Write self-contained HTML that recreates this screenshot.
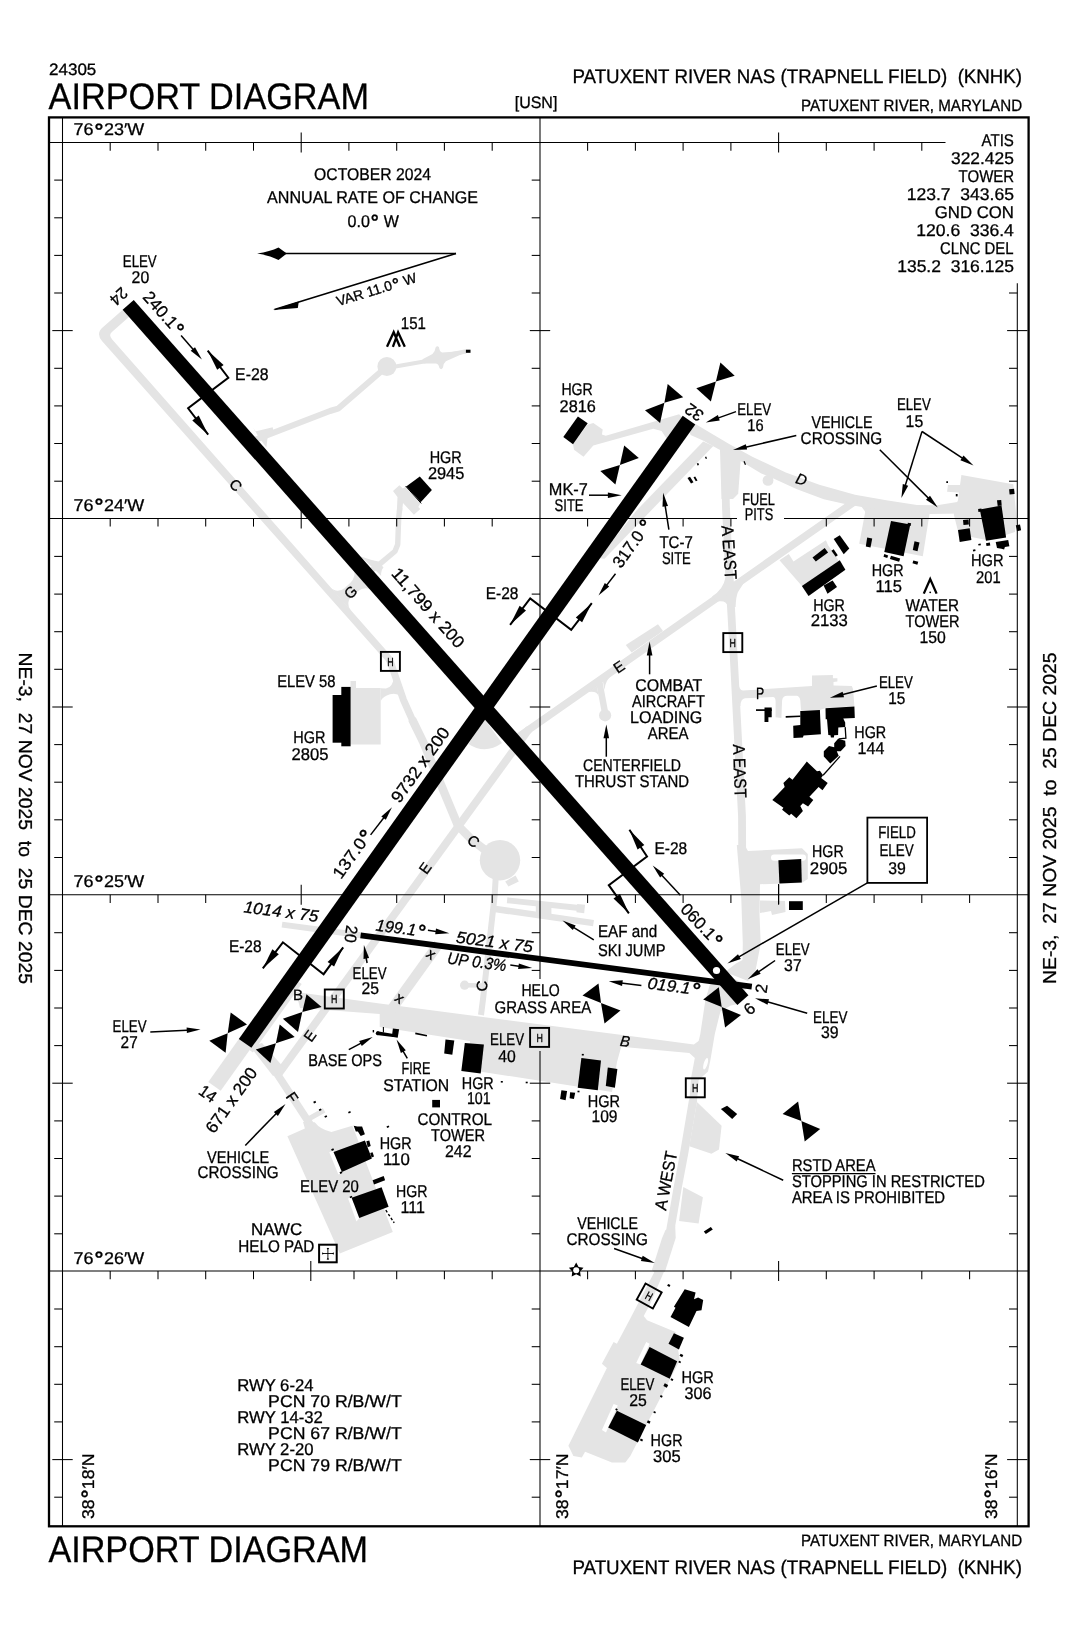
<!DOCTYPE html>
<html><head><meta charset="utf-8"><title>KNHK Airport Diagram</title>
<style>
html,body{margin:0;padding:0;background:#fff;}
svg{display:block;will-change:transform;transform:translateZ(0);}
text{font-family:"Liberation Sans",sans-serif;fill:#000;stroke:#000;stroke-width:0.3px;text-rendering:geometricPrecision;}
</style></head>
<body>
<svg width="1075" height="1647" viewBox="0 0 1075 1647">
<rect x="0" y="0" width="1075" height="1647" fill="#fff"/>
<g id="grey">
<path d="M128.2,304.9 L102.6,327.5 Q95.6,333.7 102.2,341.2 L294.7,558.1 L388.2,663.6 L393.6,658.8 L300.4,553.1 L112.0,339.2 Q108.4,335.2 111.9,332.0 L134.6,312.0 Z" fill="#e4e4e4"/>
<path d="M330.0,587.0 Q337.0,594.1 344.8,587.9 L350.2,583.1 Q356.6,576.8 353.5,568.8 L372.1,589.8 Q364.5,585.8 357.5,591.4 L352.1,596.1 Q344.9,603.1 351.1,611.0 Z" fill="#e4e4e4"/>
<polyline points="388.9,659.0 390.6,662.5 403.5,700.0 416.0,728.0" fill="none" stroke="#e4e4e4" stroke-width="7.0" stroke-linecap="butt" stroke-linejoin="round"/>
<polyline points="412.0,719.0 423.2,742.0 458.0,825.6 472.0,840.0 499.4,860.8" fill="none" stroke="#e4e4e4" stroke-width="8.4" stroke-linecap="butt" stroke-linejoin="round"/>
<circle cx="500.0" cy="860.2" r="20.2" fill="#e4e4e4"/>
<polygon points="505.2,881.4 515.6,875.6 518.8,881.4 508.4,886.6" fill="#e4e4e4"/>
<polyline points="495.7,878.0 494.6,896.0 482.9,1000.2 481.0,1015.0" fill="none" stroke="#e4e4e4" stroke-width="6.0" stroke-linecap="butt" stroke-linejoin="round"/>
<polyline points="484.0,985.5 466.0,985.2" fill="none" stroke="#e4e4e4" stroke-width="4.5" stroke-linecap="butt" stroke-linejoin="round"/>
<circle cx="464.6" cy="985.2" r="4.6" fill="#e4e4e4"/>
<polygon points="350.5,687.9 350.5,680.9 356.0,680.9 356.0,687.9 380.7,687.9 380.7,744.4 350.5,744.4" fill="#e4e4e4"/>
<path d="M380.7,688.3 L386,688.4 Q393,687.5 394.3,675.7 L401,696.6 Q396.5,692.5 390,694.3 Q383,696.5 380.7,701 Z" fill="#e4e4e4"/>
<polyline points="249.4,442.0 330.0,411.0 338.0,408.7 386.9,366.5" fill="none" stroke="#e4e4e4" stroke-width="6.0" stroke-linecap="butt" stroke-linejoin="round"/>
<polygon points="253.0,427.0 255.1,431.5 272.7,427.2 273.9,434.2 267.6,437.0 266.4,447.5 258.0,436.0" fill="#e4e4e4"/>
<circle cx="386.9" cy="366.5" r="9.5" fill="#e4e4e4"/>
<polyline points="386.9,368.0 424.0,361.5 440.0,356.5 466.0,351.4" fill="none" stroke="#e4e4e4" stroke-width="4.2" stroke-linecap="butt" stroke-linejoin="round"/>
<path d="M422.5,359.2 L432.5,354.1 Q435,352 435.6,347.5 Q437.3,345 439,347.3 Q439.5,352 442.4,352.6 L466,350.7 L466,352.2 L445.9,361.2 Q443.5,363 443,367.5 Q441.3,370.5 439.4,368 Q438.7,364 436,363.6 L423.6,363.6 Z" fill="#e4e4e4"/>
<polyline points="399.8,508.0 398.7,517.7 397.7,544.5 395.0,551.3 379.4,564.4 372.0,570.0" fill="none" stroke="#e4e4e4" stroke-width="5.4" stroke-linecap="butt" stroke-linejoin="round"/>
<path d="M361,556.6 Q372,560.5 378.5,561.5 L383.5,567.5 Q380.5,571 381.2,576 Z" fill="#e4e4e4"/>
<polygon points="393.0,491.0 399.4,485.2 402.8,488.6 406.2,486.6 420.7,502.7 418.3,507.1 420.3,509.0 413.9,514.8 403.0,503.0 402.0,512.0 396.8,512.0 397.5,497.0" fill="#e4e4e4"/>
<polyline points="277.0,1076.0 528.3,730.0" fill="none" stroke="#e4e4e4" stroke-width="7.8" stroke-linecap="butt" stroke-linejoin="round"/>
<polyline points="516.0,738.6 528.3,730.0 729.4,589.2 856.0,500.6" fill="none" stroke="#e4e4e4" stroke-width="7.5" stroke-linecap="butt" stroke-linejoin="round"/>
<circle cx="528.3" cy="730.0" r="3.8" fill="#e4e4e4"/>
<path d="M484.5,719 L468.5,744 Q485,755 502,743 Z" fill="#e4e4e4"/>
<path d="M712,596.5 Q723.5,589 725.3,578 L733.5,578 Q733,590 743.5,583.5 L738,592 Q736,596 735.6,607 L727.6,607 Q727.5,600 717,601.5 Z" fill="#e4e4e4"/>
<polygon points="625.8,644.9 658.0,624.3 663.0,631.1 631.6,652.4" fill="#e4e4e4"/>
<polyline points="599.5,683.0 605.1,713.0" fill="none" stroke="#e4e4e4" stroke-width="6.5" stroke-linecap="butt" stroke-linejoin="round"/>
<circle cx="605.1" cy="715.3" r="6.1" fill="#e4e4e4"/>
<path d="M588,692 L597,686 L598.5,696 Q597,690.5 588,692 Z M614,673 L603,681.5 L604.5,690 Q605,680 614,673 Z" fill="#e4e4e4"/>
<polygon points="587.4,424.7 593.3,423.0 602.7,429.5 601.9,434.4 605.8,435.8 679.1,414.2 686.0,421.0 672.0,432.0 666.5,438.6 661.6,430.9 653.3,428.8 593.3,445.6 583.5,456.7 574.0,449.8 573.0,444.2" fill="#e4e4e4"/>
<polygon points="703.2,441.4 713.3,446.0 604.5,558.8 599.0,558.2 635.7,511.4" fill="#e4e4e4"/>
<polygon points="693.0,422.5 707.2,431.0 730.0,444.5 752.3,456.8 785.8,472.4 819.3,484.7 855.0,494.7 886.3,500.3 917.0,504.9 937.1,505.2 957.2,501.9 962.0,498.0 962.0,513.5 930.0,513.9 866.2,513.0 861.7,507.0 843.9,503.7 823.8,499.2 797.0,489.2 772.4,478.0 761.3,473.5 738.9,460.1 717.3,448.6 703.0,440.5 690.6,434.9 688.0,428.0" fill="#e4e4e4"/>
<circle cx="768.0" cy="480.4" r="5.4" fill="#e4e4e4"/>
<polyline points="724.5,446.0 726.0,508.8 729.4,580.0 731.5,616.0 734.6,673.0 742.0,816.0 742.2,850.0" fill="none" stroke="#e4e4e4" stroke-width="7.8" stroke-linecap="butt" stroke-linejoin="round"/>
<polygon points="719.8,444.0 741.0,456.0 738.2,493.8 733.0,499.0 721.5,499.0" fill="#e4e4e4"/>
<polygon points="736.8,845.0 744.5,845.0 748.0,851.0 802.0,848.3 807.8,854.0 807.8,879.0 801.6,883.0 760.0,884.2 759.5,914.0 760.7,943.7 755.5,970.5 748.0,981.0 725.0,972.0 736.0,963.5 742.5,960.0 742.8,943.7 741.3,899.0" fill="#e4e4e4"/>
<rect x="771" y="854.6" width="35" height="6.2" rx="3" fill="#fff"/>
<polygon points="760.0,900.5 785.0,901.0 785.5,912.0 772.0,915.0 771.0,911.0 760.0,913.0" fill="#e4e4e4"/>
<path d="M738.5,682 Q738.8,690.6 743,690.6 L812,686 L812,675.6 L832.9,675 L832.9,678.2 L837.4,678.2 L837.4,681.5 L833.5,682.1 L833.5,685.4 L851.8,686 L853.1,689.3 L854.4,706.2 L825.7,708 L820,710 L801,710.1 L800.3,700.4 Q799.5,695.8 796.4,695.8 L787.3,695.8 Q782.5,696 782.1,700.4 L781.4,717.9 L775.6,717.3 L775.6,701 Q775.3,697.1 773,697.1 L745,698.2 Q740.6,698.6 740.4,706 L739,706 Z" fill="#e4e4e4"/>
<polygon points="865.9,508.2 929.8,512.3 922.8,556.3 859.2,543.7" fill="#e4e4e4"/>
<polygon points="961.4,475.1 1013.3,484.3 1016.6,518.6 1014.9,532.0 989.0,540.4 958.8,534.5 953.8,514.6 958.0,500.0" fill="#e4e4e4"/>
<polygon points="947.9,485.1 962.0,485.1 962.0,492.7 947.1,491.8" fill="#e4e4e4"/>
<polygon points="779.5,560.2 788.8,554.0 793.5,561.4 825.9,540.2 828.1,545.3 838.1,559.8 845.0,570.0 808.0,596.0 801.9,586.0" fill="#e4e4e4"/>
<polygon points="296.0,992.0 379.7,1003.6 622.3,1035.1 693.8,1044.6 700.0,1040.0 698.0,1061.0 694.9,1058.0 689.3,1053.0 621.2,1046.8 617.0,1062.0 612.0,1092.0 481.2,1071.7 470.0,1070.0 470.0,1041.0 379.7,1026.9 379.7,1014.0 300.0,1008.0" fill="#e4e4e4"/>
<polygon points="709.9,984.6 725.0,975.0 748.0,985.0 738.0,1004.0 730.8,1005.5 720.4,1011.4 714.8,1034.0 710.5,1059.5 708.0,1071.4 698.6,1080.0 696.9,1102.0 689.3,1102.0 691.0,1078.2 695.2,1056.1 700.3,1034.0 705.4,1000.0" fill="#e4e4e4"/>
<ellipse cx="705.6" cy="1063.7" rx="1.9" ry="6.0" transform="rotate(17 705.6 1063.7)" fill="#fff"/>
<polyline points="693.1,1100.0 684.2,1153.0 677.8,1187.0 670.0,1232.0" fill="none" stroke="#e4e4e4" stroke-width="8.2" stroke-linecap="butt" stroke-linejoin="round"/>
<polygon points="665.5,1230.0 675.2,1226.0 675.7,1238.0 665.5,1270.0 664.7,1272.0 654.0,1272.0 651.9,1270.0 662.1,1238.0" fill="#e4e4e4"/>
<polygon points="696.9,1102.0 721.6,1125.8 719.0,1149.6 711.4,1153.8 689.3,1146.2" fill="#e4e4e4"/>
<polygon points="683.3,1187.0 702.9,1197.2 698.6,1223.5 679.1,1221.0" fill="#e4e4e4"/>
<polygon points="239.6,1038.0 252.0,1046.8 220.7,1090.8 208.3,1082.0" fill="#e4e4e4"/>
<polyline points="258.9,1046.0 296.5,1103.5 311.2,1126.0" fill="none" stroke="#e4e4e4" stroke-width="7.6" stroke-linecap="butt" stroke-linejoin="round"/>
<polygon points="250.5,1047.0 262.0,1043.0 286.0,1070.0 273.0,1076.0" fill="#e4e4e4"/>
<path d="M287.4,1136.3 L304.9,1128.6 L303,1122 L314.7,1122.3 Q320.2,1129.5 331.4,1132.1 L352.3,1125.8 L356.5,1136.3 L367.7,1167 L392.8,1231.9 L339.8,1253.5 Z" fill="#e4e4e4"/>
<polyline points="308.5,1119.0 324.1,1110.2" fill="none" stroke="#e4e4e4" stroke-width="5.0" stroke-linecap="butt" stroke-linejoin="round"/>
<polygon points="329.3,1152.3 333.5,1150.5 342.6,1172.5 338.4,1174.6" fill="#fff"/>
<polygon points="348.1,1198.4 351.6,1197.0 359.3,1217.9 356.5,1221.4" fill="#fff"/>
<polygon points="297.9,981.3 301.7,984.0 252.9,1052.4 249.2,1049.7" fill="#e4e4e4"/>
<polyline points="282.0,924.6 361.0,935.2" fill="none" stroke="#e4e4e4" stroke-width="6.0" stroke-linecap="butt" stroke-linejoin="round"/>
<polyline points="507.1,900.3 583.9,908.5" fill="none" stroke="#e4e4e4" stroke-width="5.9" stroke-linecap="butt" stroke-linejoin="round"/>
<polygon points="577.2,904.0 585.0,904.8 584.2,913.2 576.4,912.2" fill="#e4e4e4"/>
<polyline points="495.4,909.0 593.5,923.1" fill="none" stroke="#e4e4e4" stroke-width="6.5" stroke-linecap="butt" stroke-linejoin="round"/>
<polygon points="535.8,901.0 551.4,903.0 551.4,917.5 535.8,915.0" fill="#e4e4e4"/>
<polyline points="438.5,944.0 431.4,954.0 389.0,1013.0" fill="none" stroke="#e4e4e4" stroke-width="10.0" stroke-linecap="butt" stroke-linejoin="round"/>
<polygon points="655.4,1270.0 630.3,1318.6 616.9,1343.7 613.6,1342.0 601.9,1363.8 606.9,1368.0 568.4,1445.8 573.4,1455.9 581.8,1457.5 585.1,1451.7 611.9,1462.6 625.3,1462.6 630.3,1455.9 679.7,1360.4 675.5,1332.0 647.1,1320.2 643.7,1316.0 650.4,1303.5 664.7,1270.0" fill="#e4e4e4"/>
<polygon points="636.2,1362.9 646.2,1342.0 649.6,1343.7 640.4,1364.6" fill="#fff"/>
<polygon points="601.9,1429.9 613.6,1404.0 617.8,1405.6 606.0,1432.4" fill="#fff"/>
</g>
<rect x="49.0" y="117.4" width="979.5999999999999" height="1408.8999999999999" fill="none" stroke="#000" stroke-width="2.3"/>
<line x1="62.5" y1="117.4" x2="62.5" y2="1526.3" stroke="#000" stroke-width="1.05" stroke-linecap="butt"/>
<line x1="1017.3" y1="283.3" x2="1017.3" y2="1526.3" stroke="#000" stroke-width="1.05" stroke-linecap="butt"/>
<line x1="540.0" y1="117.4" x2="540.0" y2="979.0" stroke="#000" stroke-width="1.05" stroke-linecap="butt"/>
<line x1="540.0" y1="1051.0" x2="540.0" y2="1526.3" stroke="#000" stroke-width="1.05" stroke-linecap="butt"/>
<line x1="49.0" y1="142.5" x2="945.5" y2="142.5" stroke="#000" stroke-width="1.05" stroke-linecap="butt"/>
<line x1="49.0" y1="518.4" x2="737.0" y2="518.4" stroke="#000" stroke-width="1.05" stroke-linecap="butt"/>
<line x1="784.0" y1="518.4" x2="1028.6" y2="518.4" stroke="#000" stroke-width="1.05" stroke-linecap="butt"/>
<line x1="49.0" y1="894.7" x2="1028.6" y2="894.7" stroke="#000" stroke-width="1.05" stroke-linecap="butt"/>
<line x1="49.0" y1="1271.0" x2="1028.6" y2="1271.0" stroke="#000" stroke-width="1.05" stroke-linecap="butt"/>
<line x1="110.2" y1="142.5" x2="110.2" y2="150.7" stroke="#000" stroke-width="1.05" stroke-linecap="butt"/>
<line x1="158.0" y1="142.5" x2="158.0" y2="150.7" stroke="#000" stroke-width="1.05" stroke-linecap="butt"/>
<line x1="205.7" y1="142.5" x2="205.7" y2="150.7" stroke="#000" stroke-width="1.05" stroke-linecap="butt"/>
<line x1="253.5" y1="142.5" x2="253.5" y2="150.7" stroke="#000" stroke-width="1.05" stroke-linecap="butt"/>
<line x1="301.2" y1="132.5" x2="301.2" y2="152.5" stroke="#000" stroke-width="1.05" stroke-linecap="butt"/>
<line x1="348.9" y1="142.5" x2="348.9" y2="150.7" stroke="#000" stroke-width="1.05" stroke-linecap="butt"/>
<line x1="396.7" y1="142.5" x2="396.7" y2="150.7" stroke="#000" stroke-width="1.05" stroke-linecap="butt"/>
<line x1="444.4" y1="142.5" x2="444.4" y2="150.7" stroke="#000" stroke-width="1.05" stroke-linecap="butt"/>
<line x1="492.2" y1="142.5" x2="492.2" y2="150.7" stroke="#000" stroke-width="1.05" stroke-linecap="butt"/>
<line x1="587.6" y1="142.5" x2="587.6" y2="150.7" stroke="#000" stroke-width="1.05" stroke-linecap="butt"/>
<line x1="635.4" y1="142.5" x2="635.4" y2="150.7" stroke="#000" stroke-width="1.05" stroke-linecap="butt"/>
<line x1="683.1" y1="142.5" x2="683.1" y2="150.7" stroke="#000" stroke-width="1.05" stroke-linecap="butt"/>
<line x1="730.9" y1="142.5" x2="730.9" y2="150.7" stroke="#000" stroke-width="1.05" stroke-linecap="butt"/>
<line x1="778.6" y1="132.5" x2="778.6" y2="152.5" stroke="#000" stroke-width="1.05" stroke-linecap="butt"/>
<line x1="826.3" y1="142.5" x2="826.3" y2="150.7" stroke="#000" stroke-width="1.05" stroke-linecap="butt"/>
<line x1="874.1" y1="142.5" x2="874.1" y2="150.7" stroke="#000" stroke-width="1.05" stroke-linecap="butt"/>
<line x1="921.8" y1="142.5" x2="921.8" y2="150.7" stroke="#000" stroke-width="1.05" stroke-linecap="butt"/>
<line x1="110.2" y1="518.4" x2="110.2" y2="526.6" stroke="#000" stroke-width="1.05" stroke-linecap="butt"/>
<line x1="158.0" y1="518.4" x2="158.0" y2="526.6" stroke="#000" stroke-width="1.05" stroke-linecap="butt"/>
<line x1="205.7" y1="518.4" x2="205.7" y2="526.6" stroke="#000" stroke-width="1.05" stroke-linecap="butt"/>
<line x1="253.5" y1="518.4" x2="253.5" y2="526.6" stroke="#000" stroke-width="1.05" stroke-linecap="butt"/>
<line x1="301.2" y1="508.4" x2="301.2" y2="528.4" stroke="#000" stroke-width="1.05" stroke-linecap="butt"/>
<line x1="348.9" y1="518.4" x2="348.9" y2="526.6" stroke="#000" stroke-width="1.05" stroke-linecap="butt"/>
<line x1="396.7" y1="518.4" x2="396.7" y2="526.6" stroke="#000" stroke-width="1.05" stroke-linecap="butt"/>
<line x1="444.4" y1="518.4" x2="444.4" y2="526.6" stroke="#000" stroke-width="1.05" stroke-linecap="butt"/>
<line x1="492.2" y1="518.4" x2="492.2" y2="526.6" stroke="#000" stroke-width="1.05" stroke-linecap="butt"/>
<line x1="587.6" y1="518.4" x2="587.6" y2="526.6" stroke="#000" stroke-width="1.05" stroke-linecap="butt"/>
<line x1="635.4" y1="518.4" x2="635.4" y2="526.6" stroke="#000" stroke-width="1.05" stroke-linecap="butt"/>
<line x1="683.1" y1="518.4" x2="683.1" y2="526.6" stroke="#000" stroke-width="1.05" stroke-linecap="butt"/>
<line x1="730.9" y1="518.4" x2="730.9" y2="526.6" stroke="#000" stroke-width="1.05" stroke-linecap="butt"/>
<line x1="826.3" y1="518.4" x2="826.3" y2="526.6" stroke="#000" stroke-width="1.05" stroke-linecap="butt"/>
<line x1="874.1" y1="518.4" x2="874.1" y2="526.6" stroke="#000" stroke-width="1.05" stroke-linecap="butt"/>
<line x1="921.8" y1="518.4" x2="921.8" y2="526.6" stroke="#000" stroke-width="1.05" stroke-linecap="butt"/>
<line x1="969.6" y1="518.4" x2="969.6" y2="526.6" stroke="#000" stroke-width="1.05" stroke-linecap="butt"/>
<line x1="110.2" y1="894.7" x2="110.2" y2="902.9" stroke="#000" stroke-width="1.05" stroke-linecap="butt"/>
<line x1="158.0" y1="894.7" x2="158.0" y2="902.9" stroke="#000" stroke-width="1.05" stroke-linecap="butt"/>
<line x1="205.7" y1="894.7" x2="205.7" y2="902.9" stroke="#000" stroke-width="1.05" stroke-linecap="butt"/>
<line x1="301.2" y1="884.7" x2="301.2" y2="904.7" stroke="#000" stroke-width="1.05" stroke-linecap="butt"/>
<line x1="348.9" y1="894.7" x2="348.9" y2="902.9" stroke="#000" stroke-width="1.05" stroke-linecap="butt"/>
<line x1="396.7" y1="894.7" x2="396.7" y2="902.9" stroke="#000" stroke-width="1.05" stroke-linecap="butt"/>
<line x1="444.4" y1="894.7" x2="444.4" y2="902.9" stroke="#000" stroke-width="1.05" stroke-linecap="butt"/>
<line x1="492.2" y1="894.7" x2="492.2" y2="902.9" stroke="#000" stroke-width="1.05" stroke-linecap="butt"/>
<line x1="587.6" y1="894.7" x2="587.6" y2="902.9" stroke="#000" stroke-width="1.05" stroke-linecap="butt"/>
<line x1="635.4" y1="894.7" x2="635.4" y2="902.9" stroke="#000" stroke-width="1.05" stroke-linecap="butt"/>
<line x1="683.1" y1="894.7" x2="683.1" y2="902.9" stroke="#000" stroke-width="1.05" stroke-linecap="butt"/>
<line x1="730.9" y1="894.7" x2="730.9" y2="902.9" stroke="#000" stroke-width="1.05" stroke-linecap="butt"/>
<line x1="778.6" y1="884.7" x2="778.6" y2="904.7" stroke="#000" stroke-width="1.05" stroke-linecap="butt"/>
<line x1="826.3" y1="894.7" x2="826.3" y2="902.9" stroke="#000" stroke-width="1.05" stroke-linecap="butt"/>
<line x1="874.1" y1="894.7" x2="874.1" y2="902.9" stroke="#000" stroke-width="1.05" stroke-linecap="butt"/>
<line x1="921.8" y1="894.7" x2="921.8" y2="902.9" stroke="#000" stroke-width="1.05" stroke-linecap="butt"/>
<line x1="969.6" y1="894.7" x2="969.6" y2="902.9" stroke="#000" stroke-width="1.05" stroke-linecap="butt"/>
<line x1="110.2" y1="1271.0" x2="110.2" y2="1279.2" stroke="#000" stroke-width="1.05" stroke-linecap="butt"/>
<line x1="158.0" y1="1271.0" x2="158.0" y2="1279.2" stroke="#000" stroke-width="1.05" stroke-linecap="butt"/>
<line x1="205.7" y1="1271.0" x2="205.7" y2="1279.2" stroke="#000" stroke-width="1.05" stroke-linecap="butt"/>
<line x1="253.5" y1="1271.0" x2="253.5" y2="1279.2" stroke="#000" stroke-width="1.05" stroke-linecap="butt"/>
<line x1="310.8" y1="1261.0" x2="310.8" y2="1281.0" stroke="#000" stroke-width="1.05" stroke-linecap="butt"/>
<line x1="354.0" y1="1271.0" x2="354.0" y2="1279.2" stroke="#000" stroke-width="1.05" stroke-linecap="butt"/>
<line x1="396.7" y1="1271.0" x2="396.7" y2="1279.2" stroke="#000" stroke-width="1.05" stroke-linecap="butt"/>
<line x1="444.4" y1="1271.0" x2="444.4" y2="1279.2" stroke="#000" stroke-width="1.05" stroke-linecap="butt"/>
<line x1="492.2" y1="1271.0" x2="492.2" y2="1279.2" stroke="#000" stroke-width="1.05" stroke-linecap="butt"/>
<line x1="587.6" y1="1271.0" x2="587.6" y2="1279.2" stroke="#000" stroke-width="1.05" stroke-linecap="butt"/>
<line x1="635.4" y1="1271.0" x2="635.4" y2="1279.2" stroke="#000" stroke-width="1.05" stroke-linecap="butt"/>
<line x1="683.1" y1="1271.0" x2="683.1" y2="1279.2" stroke="#000" stroke-width="1.05" stroke-linecap="butt"/>
<line x1="730.9" y1="1271.0" x2="730.9" y2="1279.2" stroke="#000" stroke-width="1.05" stroke-linecap="butt"/>
<line x1="778.6" y1="1261.0" x2="778.6" y2="1281.0" stroke="#000" stroke-width="1.05" stroke-linecap="butt"/>
<line x1="826.3" y1="1271.0" x2="826.3" y2="1279.2" stroke="#000" stroke-width="1.05" stroke-linecap="butt"/>
<line x1="874.1" y1="1271.0" x2="874.1" y2="1279.2" stroke="#000" stroke-width="1.05" stroke-linecap="butt"/>
<line x1="921.8" y1="1271.0" x2="921.8" y2="1279.2" stroke="#000" stroke-width="1.05" stroke-linecap="butt"/>
<line x1="969.6" y1="1271.0" x2="969.6" y2="1279.2" stroke="#000" stroke-width="1.05" stroke-linecap="butt"/>
<line x1="54.2" y1="180.1" x2="62.5" y2="180.1" stroke="#000" stroke-width="1.05" stroke-linecap="butt"/>
<line x1="54.2" y1="217.8" x2="62.5" y2="217.8" stroke="#000" stroke-width="1.05" stroke-linecap="butt"/>
<line x1="54.2" y1="255.4" x2="62.5" y2="255.4" stroke="#000" stroke-width="1.05" stroke-linecap="butt"/>
<line x1="54.2" y1="293.0" x2="62.5" y2="293.0" stroke="#000" stroke-width="1.05" stroke-linecap="butt"/>
<line x1="52.3" y1="330.6" x2="72.7" y2="330.6" stroke="#000" stroke-width="1.05" stroke-linecap="butt"/>
<line x1="54.2" y1="368.3" x2="62.5" y2="368.3" stroke="#000" stroke-width="1.05" stroke-linecap="butt"/>
<line x1="54.2" y1="405.9" x2="62.5" y2="405.9" stroke="#000" stroke-width="1.05" stroke-linecap="butt"/>
<line x1="54.2" y1="443.5" x2="62.5" y2="443.5" stroke="#000" stroke-width="1.05" stroke-linecap="butt"/>
<line x1="54.2" y1="481.2" x2="62.5" y2="481.2" stroke="#000" stroke-width="1.05" stroke-linecap="butt"/>
<line x1="54.2" y1="556.4" x2="62.5" y2="556.4" stroke="#000" stroke-width="1.05" stroke-linecap="butt"/>
<line x1="54.2" y1="594.1" x2="62.5" y2="594.1" stroke="#000" stroke-width="1.05" stroke-linecap="butt"/>
<line x1="54.2" y1="631.7" x2="62.5" y2="631.7" stroke="#000" stroke-width="1.05" stroke-linecap="butt"/>
<line x1="54.2" y1="669.3" x2="62.5" y2="669.3" stroke="#000" stroke-width="1.05" stroke-linecap="butt"/>
<line x1="52.3" y1="707.0" x2="72.7" y2="707.0" stroke="#000" stroke-width="1.05" stroke-linecap="butt"/>
<line x1="54.2" y1="744.6" x2="62.5" y2="744.6" stroke="#000" stroke-width="1.05" stroke-linecap="butt"/>
<line x1="54.2" y1="782.2" x2="62.5" y2="782.2" stroke="#000" stroke-width="1.05" stroke-linecap="butt"/>
<line x1="54.2" y1="819.8" x2="62.5" y2="819.8" stroke="#000" stroke-width="1.05" stroke-linecap="butt"/>
<line x1="54.2" y1="857.5" x2="62.5" y2="857.5" stroke="#000" stroke-width="1.05" stroke-linecap="butt"/>
<line x1="54.2" y1="932.7" x2="62.5" y2="932.7" stroke="#000" stroke-width="1.05" stroke-linecap="butt"/>
<line x1="54.2" y1="970.4" x2="62.5" y2="970.4" stroke="#000" stroke-width="1.05" stroke-linecap="butt"/>
<line x1="54.2" y1="1008.0" x2="62.5" y2="1008.0" stroke="#000" stroke-width="1.05" stroke-linecap="butt"/>
<line x1="54.2" y1="1045.6" x2="62.5" y2="1045.6" stroke="#000" stroke-width="1.05" stroke-linecap="butt"/>
<line x1="52.3" y1="1083.2" x2="72.7" y2="1083.2" stroke="#000" stroke-width="1.05" stroke-linecap="butt"/>
<line x1="54.2" y1="1120.9" x2="62.5" y2="1120.9" stroke="#000" stroke-width="1.05" stroke-linecap="butt"/>
<line x1="54.2" y1="1158.5" x2="62.5" y2="1158.5" stroke="#000" stroke-width="1.05" stroke-linecap="butt"/>
<line x1="54.2" y1="1196.1" x2="62.5" y2="1196.1" stroke="#000" stroke-width="1.05" stroke-linecap="butt"/>
<line x1="54.2" y1="1233.8" x2="62.5" y2="1233.8" stroke="#000" stroke-width="1.05" stroke-linecap="butt"/>
<line x1="54.2" y1="1309.0" x2="62.5" y2="1309.0" stroke="#000" stroke-width="1.05" stroke-linecap="butt"/>
<line x1="54.2" y1="1346.7" x2="62.5" y2="1346.7" stroke="#000" stroke-width="1.05" stroke-linecap="butt"/>
<line x1="54.2" y1="1384.3" x2="62.5" y2="1384.3" stroke="#000" stroke-width="1.05" stroke-linecap="butt"/>
<line x1="54.2" y1="1421.9" x2="62.5" y2="1421.9" stroke="#000" stroke-width="1.05" stroke-linecap="butt"/>
<line x1="52.3" y1="1459.6" x2="72.7" y2="1459.6" stroke="#000" stroke-width="1.05" stroke-linecap="butt"/>
<line x1="54.2" y1="1497.2" x2="62.5" y2="1497.2" stroke="#000" stroke-width="1.05" stroke-linecap="butt"/>
<line x1="531.7" y1="180.1" x2="540.0" y2="180.1" stroke="#000" stroke-width="1.05" stroke-linecap="butt"/>
<line x1="531.7" y1="217.8" x2="540.0" y2="217.8" stroke="#000" stroke-width="1.05" stroke-linecap="butt"/>
<line x1="531.7" y1="255.4" x2="540.0" y2="255.4" stroke="#000" stroke-width="1.05" stroke-linecap="butt"/>
<line x1="531.7" y1="293.0" x2="540.0" y2="293.0" stroke="#000" stroke-width="1.05" stroke-linecap="butt"/>
<line x1="529.8" y1="330.6" x2="550.2" y2="330.6" stroke="#000" stroke-width="1.05" stroke-linecap="butt"/>
<line x1="531.7" y1="368.3" x2="540.0" y2="368.3" stroke="#000" stroke-width="1.05" stroke-linecap="butt"/>
<line x1="531.7" y1="405.9" x2="540.0" y2="405.9" stroke="#000" stroke-width="1.05" stroke-linecap="butt"/>
<line x1="531.7" y1="443.5" x2="540.0" y2="443.5" stroke="#000" stroke-width="1.05" stroke-linecap="butt"/>
<line x1="531.7" y1="481.2" x2="540.0" y2="481.2" stroke="#000" stroke-width="1.05" stroke-linecap="butt"/>
<line x1="531.7" y1="556.4" x2="540.0" y2="556.4" stroke="#000" stroke-width="1.05" stroke-linecap="butt"/>
<line x1="531.7" y1="594.1" x2="540.0" y2="594.1" stroke="#000" stroke-width="1.05" stroke-linecap="butt"/>
<line x1="531.7" y1="631.7" x2="540.0" y2="631.7" stroke="#000" stroke-width="1.05" stroke-linecap="butt"/>
<line x1="531.7" y1="669.3" x2="540.0" y2="669.3" stroke="#000" stroke-width="1.05" stroke-linecap="butt"/>
<line x1="529.8" y1="707.0" x2="550.2" y2="707.0" stroke="#000" stroke-width="1.05" stroke-linecap="butt"/>
<line x1="531.7" y1="744.6" x2="540.0" y2="744.6" stroke="#000" stroke-width="1.05" stroke-linecap="butt"/>
<line x1="531.7" y1="782.2" x2="540.0" y2="782.2" stroke="#000" stroke-width="1.05" stroke-linecap="butt"/>
<line x1="531.7" y1="819.8" x2="540.0" y2="819.8" stroke="#000" stroke-width="1.05" stroke-linecap="butt"/>
<line x1="531.7" y1="857.5" x2="540.0" y2="857.5" stroke="#000" stroke-width="1.05" stroke-linecap="butt"/>
<line x1="531.7" y1="932.7" x2="540.0" y2="932.7" stroke="#000" stroke-width="1.05" stroke-linecap="butt"/>
<line x1="531.7" y1="970.4" x2="540.0" y2="970.4" stroke="#000" stroke-width="1.05" stroke-linecap="butt"/>
<line x1="529.8" y1="1083.2" x2="550.2" y2="1083.2" stroke="#000" stroke-width="1.05" stroke-linecap="butt"/>
<line x1="531.7" y1="1120.9" x2="540.0" y2="1120.9" stroke="#000" stroke-width="1.05" stroke-linecap="butt"/>
<line x1="531.7" y1="1158.5" x2="540.0" y2="1158.5" stroke="#000" stroke-width="1.05" stroke-linecap="butt"/>
<line x1="531.7" y1="1196.1" x2="540.0" y2="1196.1" stroke="#000" stroke-width="1.05" stroke-linecap="butt"/>
<line x1="531.7" y1="1233.8" x2="540.0" y2="1233.8" stroke="#000" stroke-width="1.05" stroke-linecap="butt"/>
<line x1="531.7" y1="1309.0" x2="540.0" y2="1309.0" stroke="#000" stroke-width="1.05" stroke-linecap="butt"/>
<line x1="531.7" y1="1346.7" x2="540.0" y2="1346.7" stroke="#000" stroke-width="1.05" stroke-linecap="butt"/>
<line x1="531.7" y1="1384.3" x2="540.0" y2="1384.3" stroke="#000" stroke-width="1.05" stroke-linecap="butt"/>
<line x1="531.7" y1="1421.9" x2="540.0" y2="1421.9" stroke="#000" stroke-width="1.05" stroke-linecap="butt"/>
<line x1="529.8" y1="1459.6" x2="550.2" y2="1459.6" stroke="#000" stroke-width="1.05" stroke-linecap="butt"/>
<line x1="531.7" y1="1497.2" x2="540.0" y2="1497.2" stroke="#000" stroke-width="1.05" stroke-linecap="butt"/>
<line x1="1009.0" y1="293.0" x2="1017.3" y2="293.0" stroke="#000" stroke-width="1.05" stroke-linecap="butt"/>
<line x1="1007.1" y1="330.6" x2="1027.5" y2="330.6" stroke="#000" stroke-width="1.05" stroke-linecap="butt"/>
<line x1="1009.0" y1="368.3" x2="1017.3" y2="368.3" stroke="#000" stroke-width="1.05" stroke-linecap="butt"/>
<line x1="1009.0" y1="405.9" x2="1017.3" y2="405.9" stroke="#000" stroke-width="1.05" stroke-linecap="butt"/>
<line x1="1009.0" y1="443.5" x2="1017.3" y2="443.5" stroke="#000" stroke-width="1.05" stroke-linecap="butt"/>
<line x1="1009.0" y1="481.2" x2="1017.3" y2="481.2" stroke="#000" stroke-width="1.05" stroke-linecap="butt"/>
<line x1="1009.0" y1="556.4" x2="1017.3" y2="556.4" stroke="#000" stroke-width="1.05" stroke-linecap="butt"/>
<line x1="1009.0" y1="594.1" x2="1017.3" y2="594.1" stroke="#000" stroke-width="1.05" stroke-linecap="butt"/>
<line x1="1009.0" y1="631.7" x2="1017.3" y2="631.7" stroke="#000" stroke-width="1.05" stroke-linecap="butt"/>
<line x1="1009.0" y1="669.3" x2="1017.3" y2="669.3" stroke="#000" stroke-width="1.05" stroke-linecap="butt"/>
<line x1="1007.1" y1="707.0" x2="1027.5" y2="707.0" stroke="#000" stroke-width="1.05" stroke-linecap="butt"/>
<line x1="1009.0" y1="744.6" x2="1017.3" y2="744.6" stroke="#000" stroke-width="1.05" stroke-linecap="butt"/>
<line x1="1009.0" y1="782.2" x2="1017.3" y2="782.2" stroke="#000" stroke-width="1.05" stroke-linecap="butt"/>
<line x1="1009.0" y1="819.8" x2="1017.3" y2="819.8" stroke="#000" stroke-width="1.05" stroke-linecap="butt"/>
<line x1="1009.0" y1="857.5" x2="1017.3" y2="857.5" stroke="#000" stroke-width="1.05" stroke-linecap="butt"/>
<line x1="1009.0" y1="932.7" x2="1017.3" y2="932.7" stroke="#000" stroke-width="1.05" stroke-linecap="butt"/>
<line x1="1009.0" y1="970.4" x2="1017.3" y2="970.4" stroke="#000" stroke-width="1.05" stroke-linecap="butt"/>
<line x1="1009.0" y1="1008.0" x2="1017.3" y2="1008.0" stroke="#000" stroke-width="1.05" stroke-linecap="butt"/>
<line x1="1009.0" y1="1045.6" x2="1017.3" y2="1045.6" stroke="#000" stroke-width="1.05" stroke-linecap="butt"/>
<line x1="1007.1" y1="1083.2" x2="1027.5" y2="1083.2" stroke="#000" stroke-width="1.05" stroke-linecap="butt"/>
<line x1="1009.0" y1="1120.9" x2="1017.3" y2="1120.9" stroke="#000" stroke-width="1.05" stroke-linecap="butt"/>
<line x1="1009.0" y1="1158.5" x2="1017.3" y2="1158.5" stroke="#000" stroke-width="1.05" stroke-linecap="butt"/>
<line x1="1009.0" y1="1196.1" x2="1017.3" y2="1196.1" stroke="#000" stroke-width="1.05" stroke-linecap="butt"/>
<line x1="1009.0" y1="1233.8" x2="1017.3" y2="1233.8" stroke="#000" stroke-width="1.05" stroke-linecap="butt"/>
<line x1="1009.0" y1="1309.0" x2="1017.3" y2="1309.0" stroke="#000" stroke-width="1.05" stroke-linecap="butt"/>
<line x1="1009.0" y1="1346.7" x2="1017.3" y2="1346.7" stroke="#000" stroke-width="1.05" stroke-linecap="butt"/>
<line x1="1009.0" y1="1384.3" x2="1017.3" y2="1384.3" stroke="#000" stroke-width="1.05" stroke-linecap="butt"/>
<line x1="1009.0" y1="1421.9" x2="1017.3" y2="1421.9" stroke="#000" stroke-width="1.05" stroke-linecap="butt"/>
<line x1="1007.1" y1="1459.6" x2="1027.5" y2="1459.6" stroke="#000" stroke-width="1.05" stroke-linecap="butt"/>
<line x1="1009.0" y1="1497.2" x2="1017.3" y2="1497.2" stroke="#000" stroke-width="1.05" stroke-linecap="butt"/>
<text x="49.0" y="75.1" font-size="16.5" textLength="47.3" lengthAdjust="spacingAndGlyphs">24305</text>
<text x="48.6" y="109.3" font-size="37" textLength="320.4" lengthAdjust="spacingAndGlyphs">AIRPORT DIAGRAM</text>
<text x="514.7" y="108.3" font-size="16.5" textLength="42.7" lengthAdjust="spacingAndGlyphs">[USN]</text>
<text x="572.5" y="82.7" font-size="19.8" textLength="449.6" lengthAdjust="spacingAndGlyphs">PATUXENT RIVER NAS (TRAPNELL FIELD)&#160;&#160;(KNHK)</text>
<text x="801.1" y="110.8" font-size="16.5" textLength="221.0" lengthAdjust="spacingAndGlyphs">PATUXENT RIVER, MARYLAND</text>
<text x="48.4" y="1561.5" font-size="37" textLength="319.6" lengthAdjust="spacingAndGlyphs">AIRPORT DIAGRAM</text>
<text x="801.1" y="1546.3" font-size="16.5" textLength="221.0" lengthAdjust="spacingAndGlyphs">PATUXENT RIVER, MARYLAND</text>
<text x="572.5" y="1574.4" font-size="19.8" textLength="449.6" lengthAdjust="spacingAndGlyphs">PATUXENT RIVER NAS (TRAPNELL FIELD)&#160;&#160;(KNHK)</text>
<text transform="translate(18.6 652.5) rotate(90.0)" x="0" y="0" font-size="18.8" textLength="331.5" lengthAdjust="spacingAndGlyphs">NE-3,&#160; 27 NOV 2025&#160; to&#160; 25 DEC 2025</text>
<text transform="translate(1056.4 984.0) rotate(-90.0)" x="0" y="0" font-size="18.8" textLength="331.5" lengthAdjust="spacingAndGlyphs">NE-3,&#160; 27 NOV 2025&#160; to&#160; 25 DEC 2025</text>
<text x="73.5" y="135.3" font-size="17.0" textLength="70.7" lengthAdjust="spacingAndGlyphs">76<tspan font-size="21.0" font-weight="bold" dy="2.2" dx="1.0">&#176;</tspan><tspan dy="-2.2" dx="0.5">23&#8242;W</tspan></text>
<text x="73.5" y="511.2" font-size="17.0" textLength="70.7" lengthAdjust="spacingAndGlyphs">76<tspan font-size="21.0" font-weight="bold" dy="2.2" dx="1.0">&#176;</tspan><tspan dy="-2.2" dx="0.5">24&#8242;W</tspan></text>
<text x="73.5" y="887.4" font-size="17.0" textLength="70.7" lengthAdjust="spacingAndGlyphs">76<tspan font-size="21.0" font-weight="bold" dy="2.2" dx="1.0">&#176;</tspan><tspan dy="-2.2" dx="0.5">25&#8242;W</tspan></text>
<text x="73.5" y="1263.8" font-size="17.0" textLength="70.7" lengthAdjust="spacingAndGlyphs">76<tspan font-size="21.0" font-weight="bold" dy="2.2" dx="1.0">&#176;</tspan><tspan dy="-2.2" dx="0.5">26&#8242;W</tspan></text>
<text transform="translate(94.0 1519.0) rotate(-90.0)" x="0" y="0" font-size="17.0" textLength="65.5" lengthAdjust="spacingAndGlyphs">38<tspan font-size="21.0" font-weight="bold" dy="2.2" dx="1.0">&#176;</tspan><tspan dy="-2.2" dx="0.5">18&#8242;N</tspan></text>
<text transform="translate(567.5 1519.0) rotate(-90.0)" x="0" y="0" font-size="17.0" textLength="65.5" lengthAdjust="spacingAndGlyphs">38<tspan font-size="21.0" font-weight="bold" dy="2.2" dx="1.0">&#176;</tspan><tspan dy="-2.2" dx="0.5">17&#8242;N</tspan></text>
<text transform="translate(997.0 1519.0) rotate(-90.0)" x="0" y="0" font-size="17.0" textLength="65.5" lengthAdjust="spacingAndGlyphs">38<tspan font-size="21.0" font-weight="bold" dy="2.2" dx="1.0">&#176;</tspan><tspan dy="-2.2" dx="0.5">16&#8242;N</tspan></text>
<line x1="128.2" y1="304.9" x2="742.9" y2="1000.2" stroke="#000" stroke-width="14.8" stroke-linecap="butt"/>
<line x1="689.0" y1="420.1" x2="245.1" y2="1043.4" stroke="#000" stroke-width="15.4" stroke-linecap="butt"/>
<line x1="360.6" y1="935.4" x2="751.8" y2="986.6" stroke="#000" stroke-width="5.8" stroke-linecap="butt"/>
<circle cx="716.5" cy="970.5" r="3.6" fill="#fff"/>
<polygon points="664.4,402.8 667.7,384.0 683.2,397.3" fill="#000"/>
<polygon points="664.4,402.8 645.0,410.3 660.1,422.9" fill="#000"/>
<polygon points="715.9,381.4 720.4,362.6 734.7,375.7" fill="#000"/>
<polygon points="715.9,381.4 696.3,388.2 710.9,401.5" fill="#000"/>
<polygon points="619.9,465.1 624.2,445.5 638.8,458.1" fill="#000"/>
<polygon points="619.9,465.1 600.3,471.1 615.4,484.4" fill="#000"/>
<polygon points="721.7,1007.0 703.2,999.5 718.8,987.2" fill="#000"/>
<polygon points="721.7,1007.0 725.1,1027.6 741.0,1015.0" fill="#000"/>
<polygon points="227.7,1033.2 230.7,1012.4 247.0,1024.4" fill="#000"/>
<polygon points="227.7,1033.2 209.3,1040.8 225.6,1052.8" fill="#000"/>
<polygon points="275.9,1043.3 279.7,1024.4 294.7,1037.0" fill="#000"/>
<polygon points="275.9,1043.3 255.8,1049.6 270.4,1062.9" fill="#000"/>
<polygon points="302.3,1011.9 306.5,994.3 321.6,1006.9" fill="#000"/>
<polygon points="302.3,1011.9 282.9,1018.7 298.0,1032.0" fill="#000"/>
<polygon points="801.4,1121.0 782.6,1114.0 798.1,1101.4" fill="#000"/>
<polygon points="801.4,1121.0 804.7,1141.6 820.2,1129.1" fill="#000"/>
<polygon points="601.0,1003.0 582.5,995.5 598.5,983.5" fill="#000"/>
<polygon points="601.0,1003.0 604.5,1023.5 620.5,1010.5" fill="#000"/>
<polygon points="577.9,416.6 587.7,423.3 573.0,444.2 563.3,436.9" fill="#000"/>
<polygon points="406.2,486.6 419.8,476.4 431.9,490.0 420.7,502.2" fill="#000"/>
<line x1="405.6" y1="486.0" x2="421.2" y2="503.4" stroke="#000" stroke-width="1.0" stroke-linecap="butt"/>
<polygon points="332.6,695.0 342.5,695.0 342.5,742.7 332.6,742.7" fill="#000"/>
<polygon points="341.3,686.9 350.6,686.9 350.6,746.3 341.3,746.3" fill="#000"/>
<polygon points="891.0,521.1 910.3,524.5 903.6,556.3 884.3,552.1" fill="#000"/>
<polygon points="914.5,541.2 919.5,542.4 917.5,551.3 912.8,550.1" fill="#000"/>
<polygon points="884.3,554.1 888.2,555.4 887.2,558.0 883.5,556.8" fill="#000"/>
<polygon points="891.0,555.8 900.2,558.5 899.1,561.8 889.9,559.1" fill="#000"/>
<polygon points="913.3,560.5 918.3,561.8 917.3,564.7 912.5,563.3" fill="#000"/>
<polygon points="907.8,522.8 911.1,523.3 910.6,526.1 907.4,525.6" fill="#000"/>
<polygon points="979.8,509.4 1001.5,505.5 1006.1,537.4 986.0,540.7" fill="#000"/>
<polygon points="997.0,500.2 1001.2,499.9 1001.7,505.5 997.7,506.0" fill="#000"/>
<polygon points="978.1,508.9 981.4,508.6 981.8,511.6 978.4,511.9" fill="#000"/>
<polygon points="958.0,530.0 969.7,528.3 971.4,540.0 959.7,542.1" fill="#000"/>
<polygon points="963.0,520.0 968.6,519.4 968.9,524.5 963.5,525.0" fill="#000"/>
<polygon points="1009.1,489.3 1014.1,488.8 1014.6,494.0 1009.6,494.5" fill="#000"/>
<polygon points="1015.8,525.3 1020.0,524.5 1021.1,530.3 1017.0,531.2" fill="#000"/>
<polygon points="995.7,542.1 1008.2,540.0 1009.4,546.2 1004.9,547.1 1004.1,549.6 1001.5,548.7 997.0,547.9" fill="#000"/>
<polygon points="986.0,543.2 989.8,542.6 990.3,545.4 986.5,546.1" fill="#000"/>
<polygon points="978.2,544.0 980.6,543.6 980.9,545.2 978.5,545.6" fill="#000"/>
<polygon points="972.8,549.8 975.2,549.2 975.6,551.0 973.2,551.4" fill="#000"/>
<polygon points="946.3,481.3 948.0,481.3 948.0,483.0 946.3,483.0" fill="#000"/>
<polygon points="955.8,494.0 957.6,494.0 957.6,496.4 955.8,496.4" fill="#000"/>
<polygon points="801.9,586.0 839.8,560.3 845.4,569.8 808.6,596.0" fill="#000"/>
<polygon points="823.6,585.4 832.6,580.6 837.0,587.1 827.5,593.8" fill="#000"/>
<polygon points="833.7,539.1 839.8,535.2 849.3,548.6 843.7,554.2" fill="#000"/>
<polygon points="812.5,557.5 824.7,548.0 828.1,552.5 815.8,561.4" fill="#000"/>
<polygon points="831.4,550.8 833.7,549.2 837.8,555.3 835.7,556.8" fill="#000"/>
<polygon points="867.2,537.4 872.2,538.6 870.5,547.5 865.8,546.4" fill="#000"/>
<polygon points="800.3,711.0 819.9,710.1 820.9,734.2 803.6,735.5 802.9,737.5 793.5,737.9 793.2,725.8 800.3,725.1" fill="#000"/>
<polygon points="825.5,708.2 854.4,706.6 854.8,717.9 843.3,718.6 845.2,722.5 845.2,727.1 838.3,727.5 838.1,734.9 834.2,735.3 833.9,737.5 830.9,737.5 830.5,735.3 828.3,734.9 827.0,719.3 825.7,719.3" fill="#000"/>
<path d="M845.2,727.1 L845.9,738.1 L838.7,738.8" fill="none" stroke="#000" stroke-width="1.3"/>
<polygon points="838.1,738.8 845.2,740.7 845.6,745.9 840.7,751.2 836.8,751.2 838.7,755.7 830.3,763.5 823.8,756.4 823.8,751.2 829.0,745.9 834.2,747.2 834.2,743.3" fill="#000"/>
<line x1="840.0" y1="756.4" x2="823.1" y2="775.2" stroke="#000" stroke-width="1.3" stroke-linecap="butt"/>
<polygon points="806.8,761.6 817.0,771.3 819.9,770.7 823.1,775.2 821.2,777.9 827.7,783.1 822.5,790.2 818.6,787.0 809.4,796.7 813.3,800.0 808.1,806.5 802.9,803.2 800.3,805.9 802.9,811.1 796.4,818.2 791.2,813.7 789.3,815.6 782.1,809.8 783.4,807.8 772.3,800.0 784.7,787.0 783.4,783.1 789.3,777.2 792.5,779.8" fill="#000"/>
<line x1="785.7" y1="716.9" x2="800.3" y2="716.3" stroke="#000" stroke-width="1.6" stroke-linecap="butt"/>
<line x1="756.0" y1="710.1" x2="771.7" y2="710.1" stroke="#000" stroke-width="1.7" stroke-linecap="butt"/>
<polygon points="764.5,707.5 771.7,707.5 771.7,717.3 768.4,717.3 768.4,721.9 764.5,721.9" fill="#000"/>
<polygon points="778.4,860.2 801.2,859.0 801.8,882.4 779.4,883.4" fill="#000"/>
<polygon points="789.0,901.2 802.8,901.2 802.8,910.0 789.0,910.0" fill="#000"/>
<line x1="778.6" y1="884.0" x2="778.6" y2="904.0" stroke="#000" stroke-width="1.1" stroke-linecap="butt"/>
<polygon points="464.8,1042.9 483.9,1044.6 480.7,1073.5 461.3,1071.0" fill="#000"/>
<polygon points="445.5,1039.6 454.3,1040.4 452.3,1054.7 444.2,1053.4" fill="#000"/>
<polygon points="432.2,1099.9 440.0,1099.9 440.0,1107.4 432.2,1107.4" fill="#000"/>
<rect x="500.8" y="1081.0" width="2.0" height="1.6"/>
<rect x="525.7" y="1081.7" width="2.0" height="1.6"/>
<rect x="581.8" y="1053.9" width="2.0" height="1.6"/>
<rect x="577.5" y="1090.7" width="2.0" height="1.6"/>
<polygon points="581.4,1058.1 601.0,1060.6 597.8,1090.2 577.7,1087.7" fill="#000"/>
<polygon points="607.8,1067.6 617.4,1068.9 614.9,1087.7 605.8,1086.0" fill="#000"/>
<polygon points="561.4,1090.2 567.1,1091.0 565.6,1100.3 560.1,1099.0" fill="#000"/>
<polygon points="570.1,1092.2 575.2,1092.7 573.9,1099.0 569.6,1098.3" fill="#000"/>
<polygon points="392.9,1028.4 399.1,1029.2 397.7,1037.7 391.8,1036.8" fill="#000"/>
<polygon points="377.3,1031.2 393.5,1034.0 392.9,1037.0 376.7,1035.1" fill="#000"/>
<circle cx="377.8" cy="1033.2" r="2.0"/>
<rect x="372.7" y="1030.0" width="1.4" height="2.4"/>
<line x1="383.4" y1="1027.0" x2="383.4" y2="1032.6" stroke="#000" stroke-width="1.1" stroke-linecap="butt"/>
<line x1="415.3" y1="1033.4" x2="427.0" y2="1035.7" stroke="#000" stroke-width="1.6" stroke-linecap="butt"/>
<polygon points="333.5,1151.9 364.9,1140.5 371.9,1158.6 341.9,1171.9" fill="#000"/>
<polygon points="366.3,1141.2 369.3,1140.5 370.7,1146.0 367.7,1147.2" fill="#000"/>
<polygon points="370.2,1153.0 372.6,1152.3 374.0,1156.5 371.6,1157.5" fill="#000"/>
<polygon points="353.7,1125.8 357.2,1126.5 362.1,1126.5 364.9,1134.2 360.7,1136.0 357.9,1131.4 355.8,1131.4" fill="#000"/>
<polygon points="351.6,1197.7 381.6,1187.2 388.6,1206.7 359.3,1217.9" fill="#000"/>
<polygon points="372.6,1180.2 383.7,1176.0 385.1,1180.2 374.0,1184.4" fill="#000"/>
<line x1="385.8" y1="1210.2" x2="394.2" y2="1222.8" stroke="#000" stroke-width="1.4" stroke-dasharray="2.6 2.0"/>
<rect x="313.5" y="1101.2" width="2.4" height="1.8" transform="rotate(-25 314.7 1102.1)"/>
<rect x="319.0" y="1108.9" width="2.4" height="1.8" transform="rotate(-25 320.2 1109.8)"/>
<rect x="324.6" y="1115.6" width="2.4" height="1.8" transform="rotate(-25 325.8 1116.5)"/>
<rect x="348.3" y="1111.4" width="2.4" height="1.8" transform="rotate(-25 349.5 1112.3)"/>
<rect x="386.7" y="1125.9" width="2.4" height="1.8" transform="rotate(-25 387.9 1126.8)"/>
<rect x="331.4" y="1148.7" width="2.4" height="1.8" transform="rotate(-25 332.6 1149.6)"/>
<rect x="339.8" y="1171.7" width="2.4" height="1.8" transform="rotate(-25 341.0 1172.6)"/>
<rect x="349.8" y="1196.1" width="2.4" height="1.8" transform="rotate(-25 351.0 1197.0)"/>
<polygon points="684.7,1289.3 695.6,1292.6 694.0,1299.3 698.1,1297.6 703.2,1300.1 701.5,1310.2 696.5,1311.0 688.9,1326.9 670.5,1316.9 675.5,1307.7 673.9,1306.8" fill="#000"/>
<polygon points="673.9,1333.3 683.9,1337.8 678.9,1349.5 668.5,1343.7" fill="#000"/>
<polygon points="649.6,1347.0 677.2,1361.3 669.7,1378.8 640.7,1364.6" fill="#000"/>
<polygon points="616.9,1410.7 646.2,1424.9 637.9,1442.5 608.2,1427.4" fill="#000"/>
<polygon points="720.9,1109.0 727.1,1105.8 737.2,1114.1 732.2,1119.1" fill="#000"/>
<polygon points="703.8,1231.4 710.8,1227.1 712.8,1229.6 705.8,1233.9" fill="#000"/>
<rect x="679.9" y="1354.2" width="3.0" height="2.4000000000000004" transform="rotate(27 681.4 1355.4)"/>
<rect x="678.6" y="1361.2" width="2.2" height="1.7600000000000002" transform="rotate(27 679.7 1362.1)"/>
<rect x="670.7" y="1378.7" width="2.4" height="1.92" transform="rotate(27 671.9 1379.7)"/>
<rect x="663.9" y="1384.0" width="3.8" height="3.04" transform="rotate(27 665.8 1385.5)"/>
<rect x="660.2" y="1395.5" width="2.2" height="1.7600000000000002" transform="rotate(27 661.3 1396.4)"/>
<rect x="653.5" y="1411.4" width="2.2" height="1.7600000000000002" transform="rotate(27 654.6 1412.3)"/>
<rect x="647.2" y="1420.8" width="3.0" height="2.4000000000000004" transform="rotate(27 648.7 1422.0)"/>
<rect x="640.2" y="1439.0" width="2.6" height="2.08" transform="rotate(27 641.5 1440.0)"/>
<rect x="667.5" y="1284.4" width="2.6" height="2.08" transform="rotate(27 668.8 1285.4)"/>
<rect x="615.5" y="1408.7" width="2.0" height="1.6" transform="rotate(27 616.5 1409.5)"/>
<polygon points="687.5,478.0 690.0,476.8 693.5,482.3 691.0,483.5" fill="#000"/>
<polygon points="693.5,477.3 695.2,476.5 697.5,480.5 695.8,481.3" fill="#000"/>
<polygon points="696.8,463.5 698.3,463.0 699.0,465.0 697.5,465.5" fill="#000"/>
<polygon points="705.0,457.0 706.2,456.5 707.0,458.5 705.8,459.0" fill="#000"/>
<polygon points="743.5,461.5 744.6,461.0 746.0,464.5 744.9,465.0" fill="#000"/>
<rect x="465.9" y="349.7" width="4.6" height="3.1"/>
<g transform="translate(390.4 661.4) rotate(0)"><rect x="-9.5" y="-9.5" width="19.0" height="19.0" fill="none" stroke="#000" stroke-width="1.9"/><text x="-3.2" y="4.3" font-size="11.8" stroke-width="0.55" textLength="6.4" lengthAdjust="spacingAndGlyphs">H</text></g>
<g transform="translate(732.8 642.6) rotate(0)"><rect x="-9.5" y="-9.5" width="19.0" height="19.0" fill="none" stroke="#000" stroke-width="1.9"/><text x="-3.2" y="4.3" font-size="11.8" stroke-width="0.55" textLength="6.4" lengthAdjust="spacingAndGlyphs">H</text></g>
<g transform="translate(334.3 999.0) rotate(0)"><rect x="-9.5" y="-9.5" width="19.0" height="19.0" fill="none" stroke="#000" stroke-width="1.9"/><text x="-3.2" y="4.3" font-size="11.8" stroke-width="0.55" textLength="6.4" lengthAdjust="spacingAndGlyphs">H</text></g>
<g transform="translate(539.6 1037.4) rotate(0)"><rect x="-9.5" y="-9.5" width="19.0" height="19.0" fill="none" stroke="#000" stroke-width="1.9"/><text x="-3.2" y="4.3" font-size="11.8" stroke-width="0.55" textLength="6.4" lengthAdjust="spacingAndGlyphs">H</text></g>
<g transform="translate(695.3 1087.8) rotate(0)"><rect x="-9.5" y="-9.5" width="19.0" height="19.0" fill="none" stroke="#000" stroke-width="1.9"/><text x="-3.2" y="4.3" font-size="11.8" stroke-width="0.55" textLength="6.4" lengthAdjust="spacingAndGlyphs">H</text></g>
<g transform="translate(649.2 1296.0) rotate(28.7)"><rect x="-9.2" y="-9.2" width="18.4" height="18.4" fill="none" stroke="#000" stroke-width="1.9"/><text x="-3.2" y="4.3" font-size="11.8" stroke-width="0.55" textLength="6.4" lengthAdjust="spacingAndGlyphs">H</text></g>
<rect x="319.1" y="1244.7" width="17.6" height="17.6" fill="#fff" stroke="#000" stroke-width="2.0"/>
<path d="M322.3,1253.5 H333.7 M327.9,1247.9 V1259.6" stroke="#000" stroke-width="0.9" fill="none"/>
<path d="M322.3,1252.2 v2.6 l1.8,-1.3 z M333.7,1252.2 v2.6 l-1.8,-1.3 z M326.6,1247.9 h2.6 l-1.3,1.8 z M326.6,1259.6 h2.6 l-1.3,-1.8 z"/>
<polygon points="576.2,1262.5 578.6,1266.9 583.5,1267.8 580.1,1271.5 580.7,1276.4 576.2,1274.3 571.7,1276.4 572.3,1271.5 568.9,1267.8 573.8,1266.9" fill="#000"/>
<circle cx="576.2" cy="1270.2" r="3.0" fill="#fff"/>
<path d="M387.0,346.8 L393.7,332.2 L399.9,346.8 M392.9,346.8 L398.1,332.2 L404.8,346.8" fill="none" stroke="#000" stroke-width="2.3"/>
<path d="M923.8,593.6 L930.2,579.0 L936.6,593.6" fill="none" stroke="#000" stroke-width="2.3"/>
<circle cx="930.2" cy="592.3" r="0.9"/>
<rect x="867.4" y="817.6" width="59.7" height="65.3" fill="#fff" stroke="#000" stroke-width="1.8"/>
<line x1="867.4" y1="882.9" x2="734.6" y2="959.4" stroke="#000" stroke-width="1.5" stroke-linecap="butt"/>
<polygon points="727.4,963.5 738.0,954.2 740.8,959.0" fill="#000"/>
<line x1="456.0" y1="253.5" x2="285.0" y2="253.5" stroke="#000" stroke-width="1.6" stroke-linecap="butt"/>
<path d="M257.1,253.5 Q270,251.5 278.5,247.4 L286.8,253.5 L278.5,260.0 Q270,255.5 257.1,253.5 Z"/>
<line x1="456.0" y1="253.5" x2="274.5" y2="309.4" stroke="#000" stroke-width="1.6" stroke-linecap="butt"/>
<polygon points="272.8,310.0 298.8,301.4 297.8,308.0" fill="#000"/>
<path d="M207.7,350.6 L228.3,377.7 L188.1,408.3 L208.2,434.7" fill="none" stroke="#000" stroke-width="2.0"/>
<polygon points="207.7,350.6 223.6,364.9 217.2,369.7" fill="#000"/>
<polygon points="208.2,434.7 192.3,420.4 198.7,415.6" fill="#000"/>
<path d="M510.1,624.8 L530.2,598.4 L571.2,629.8 L591.8,603.2" fill="none" stroke="#000" stroke-width="2.0"/>
<polygon points="510.1,624.8 519.6,605.7 526.0,610.5" fill="#000"/>
<polygon points="591.8,603.2 582.1,622.3 575.8,617.4" fill="#000"/>
<path d="M262.8,968.4 L282.9,942.3 L323.6,974.2 L343.2,947.3" fill="none" stroke="#000" stroke-width="2.0"/>
<polygon points="262.8,968.4 272.4,949.3 278.8,954.2" fill="#000"/>
<polygon points="343.2,947.3 334.1,966.6 327.6,961.9" fill="#000"/>
<path d="M629.4,829.8 L647.0,856.5 L608.8,885.1 L628.9,913.3" fill="none" stroke="#000" stroke-width="2.0"/>
<polygon points="629.4,829.8 644.3,845.1 637.6,849.5" fill="#000"/>
<polygon points="628.9,913.3 613.5,898.5 620.0,893.9" fill="#000"/>
<line x1="181.1" y1="335.5" x2="196.5" y2="353.2" stroke="#000" stroke-width="1.5" stroke-linecap="butt"/>
<polygon points="201.9,359.4 190.7,350.8 195.0,347.2" fill="#000"/>
<line x1="615.5" y1="573.7" x2="603.6" y2="589.1" stroke="#000" stroke-width="1.5" stroke-linecap="butt"/>
<polygon points="598.5,595.6 604.8,583.0 609.2,586.4" fill="#000"/>
<line x1="370.6" y1="834.9" x2="386.9" y2="813.8" stroke="#000" stroke-width="1.5" stroke-linecap="butt"/>
<polygon points="392.0,807.2 385.8,819.8 381.3,816.4" fill="#000"/>
<line x1="680.4" y1="895.2" x2="658.3" y2="871.6" stroke="#000" stroke-width="1.5" stroke-linecap="butt"/>
<polygon points="652.7,865.5 664.2,873.7 660.1,877.5" fill="#000"/>
<line x1="427.9" y1="930.3" x2="441.1" y2="932.2" stroke="#000" stroke-width="1.5" stroke-linecap="butt"/>
<polygon points="449.3,933.3 435.2,934.2 436.0,928.6" fill="#000"/>
<line x1="641.4" y1="985.6" x2="617.0" y2="982.4" stroke="#000" stroke-width="1.5" stroke-linecap="butt"/>
<polygon points="608.8,981.3 622.8,980.3 622.1,985.9" fill="#000"/>
<line x1="510.3" y1="965.0" x2="524.0" y2="966.9" stroke="#000" stroke-width="1.5" stroke-linecap="butt"/>
<polygon points="532.2,968.0 518.1,968.9 518.9,963.4" fill="#000"/>
<line x1="736.0" y1="411.6" x2="713.6" y2="419.6" stroke="#000" stroke-width="1.5" stroke-linecap="butt"/>
<polygon points="705.8,422.4 717.9,415.1 719.7,420.4" fill="#000"/>
<line x1="796.3" y1="435.5" x2="741.1" y2="448.2" stroke="#000" stroke-width="1.5" stroke-linecap="butt"/>
<polygon points="733.0,450.0 745.8,444.2 747.1,449.6" fill="#000"/>
<line x1="879.8" y1="449.8" x2="931.9" y2="501.6" stroke="#000" stroke-width="1.5" stroke-linecap="butt"/>
<polygon points="937.8,507.4 926.0,499.7 930.0,495.7" fill="#000"/>
<line x1="922.0" y1="431.5" x2="903.8" y2="490.2" stroke="#000" stroke-width="1.5" stroke-linecap="butt"/>
<polygon points="901.4,498.1 902.8,484.1 908.2,485.7" fill="#000"/>
<line x1="922.0" y1="431.5" x2="966.6" y2="460.8" stroke="#000" stroke-width="1.5" stroke-linecap="butt"/>
<polygon points="973.5,465.4 960.4,460.2 963.5,455.5" fill="#000"/>
<line x1="589.0" y1="495.2" x2="613.4" y2="495.2" stroke="#000" stroke-width="1.5" stroke-linecap="butt"/>
<polygon points="621.7,495.2 607.9,498.0 607.9,492.4" fill="#000"/>
<line x1="668.9" y1="529.6" x2="664.4" y2="500.9" stroke="#000" stroke-width="1.5" stroke-linecap="butt"/>
<polygon points="663.1,492.7 668.0,505.9 662.5,506.8" fill="#000"/>
<line x1="649.6" y1="674.3" x2="649.6" y2="649.9" stroke="#000" stroke-width="1.5" stroke-linecap="butt"/>
<polygon points="649.6,641.6 652.4,655.4 646.8,655.4" fill="#000"/>
<line x1="606.3" y1="756.7" x2="606.3" y2="732.8" stroke="#000" stroke-width="1.5" stroke-linecap="butt"/>
<polygon points="606.3,724.5 609.1,738.3 603.5,738.3" fill="#000"/>
<line x1="876.9" y1="686.0" x2="837.9" y2="695.8" stroke="#000" stroke-width="1.5" stroke-linecap="butt"/>
<polygon points="829.9,697.8 842.6,691.7 844.0,697.2" fill="#000"/>
<line x1="775.1" y1="960.5" x2="754.5" y2="974.6" stroke="#000" stroke-width="1.5" stroke-linecap="butt"/>
<polygon points="747.7,979.3 757.5,969.2 760.7,973.8" fill="#000"/>
<line x1="807.2" y1="1013.2" x2="763.0" y2="1000.5" stroke="#000" stroke-width="1.5" stroke-linecap="butt"/>
<polygon points="755.0,998.2 769.0,999.3 767.5,1004.7" fill="#000"/>
<line x1="367.1" y1="963.0" x2="365.3" y2="953.1" stroke="#000" stroke-width="1.5" stroke-linecap="butt"/>
<polygon points="363.9,944.9 369.1,958.0 363.5,959.0" fill="#000"/>
<line x1="150.3" y1="1032.0" x2="192.2" y2="1029.9" stroke="#000" stroke-width="1.5" stroke-linecap="butt"/>
<polygon points="200.5,1029.5 186.9,1033.0 186.6,1027.4" fill="#000"/>
<line x1="348.8" y1="1049.6" x2="365.4" y2="1040.9" stroke="#000" stroke-width="1.5" stroke-linecap="butt"/>
<polygon points="372.7,1037.1 361.8,1046.0 359.2,1041.0" fill="#000"/>
<line x1="407.3" y1="1058.4" x2="400.6" y2="1046.8" stroke="#000" stroke-width="1.5" stroke-linecap="butt"/>
<polygon points="396.5,1039.6 405.8,1050.2 400.9,1053.0" fill="#000"/>
<line x1="245.3" y1="1145.4" x2="279.7" y2="1109.9" stroke="#000" stroke-width="1.5" stroke-linecap="butt"/>
<polygon points="285.5,1104.0 277.9,1115.9 273.9,1111.9" fill="#000"/>
<line x1="614.1" y1="1248.5" x2="647.0" y2="1260.2" stroke="#000" stroke-width="1.5" stroke-linecap="butt"/>
<polygon points="654.8,1263.0 640.9,1261.0 642.7,1255.7" fill="#000"/>
<line x1="783.2" y1="1180.2" x2="732.9" y2="1156.5" stroke="#000" stroke-width="1.5" stroke-linecap="butt"/>
<polygon points="725.4,1153.0 739.1,1156.3 736.7,1161.4" fill="#000"/>
<line x1="593.8" y1="939.8" x2="569.5" y2="924.8" stroke="#000" stroke-width="1.5" stroke-linecap="butt"/>
<polygon points="562.5,920.5 575.7,925.4 572.8,930.1" fill="#000"/>
<text x="981.5" y="146.1" font-size="17.0" textLength="32.4" lengthAdjust="spacingAndGlyphs">ATIS</text>
<text x="951.0" y="164.0" font-size="17.0" textLength="62.9" lengthAdjust="spacingAndGlyphs">322.425</text>
<text x="958.6" y="182.0" font-size="17.0" textLength="55.6" lengthAdjust="spacingAndGlyphs">TOWER</text>
<text x="906.7" y="200.3" font-size="17.0" textLength="107.2" lengthAdjust="spacingAndGlyphs">123.7&#160;&#160;343.65</text>
<text x="934.8" y="218.0" font-size="17.0" textLength="79.1" lengthAdjust="spacingAndGlyphs">GND CON</text>
<text x="916.2" y="236.2" font-size="17.0" textLength="97.7" lengthAdjust="spacingAndGlyphs">120.6&#160;&#160;336.4</text>
<text x="939.9" y="254.1" font-size="17.0" textLength="73.7" lengthAdjust="spacingAndGlyphs">CLNC DEL</text>
<text x="897.2" y="272.3" font-size="17.0" textLength="116.7" lengthAdjust="spacingAndGlyphs">135.2&#160;&#160;316.125</text>
<text x="314.1" y="180.1" font-size="17.0" textLength="116.8" lengthAdjust="spacingAndGlyphs">OCTOBER 2024</text>
<text x="267.1" y="203.3" font-size="17.0" textLength="211.0" lengthAdjust="spacingAndGlyphs">ANNUAL RATE OF CHANGE</text>
<text x="347.5" y="226.6" font-size="17.0" textLength="51.3" lengthAdjust="spacingAndGlyphs">0.0<tspan font-size="21.0" font-weight="bold" dy="2.2" dx="1.0">&#176;</tspan><tspan dy="-2.2" dx="0.5"> W</tspan></text>
<text transform="translate(338.2 306.3) rotate(-17.1)" x="0" y="0" font-size="14.0" textLength="83.0" lengthAdjust="spacingAndGlyphs">VAR 11.0<tspan font-size="17.3" font-weight="bold" dy="1.8" dx="1.0">&#176;</tspan><tspan dy="-1.8" dx="0.5"> W</tspan></text>
<text x="400.8" y="328.9" font-size="17.0" textLength="25.1" lengthAdjust="spacingAndGlyphs">151</text>
<text x="122.8" y="267.2" font-size="17.0" textLength="33.9" lengthAdjust="spacingAndGlyphs">ELEV</text>
<text x="131.6" y="283.3" font-size="17.0" textLength="17.6" lengthAdjust="spacingAndGlyphs">20</text>
<text transform="translate(119.0 296.6) rotate(138.1)" x="0" y="5.9" text-anchor="middle" font-size="16.5" textLength="17.5" lengthAdjust="spacingAndGlyphs">24</text>
<text transform="translate(142.0 297.5) rotate(48.5)" x="0" y="0" font-size="17.0" textLength="52.0" lengthAdjust="spacingAndGlyphs">240.1<tspan font-size="21.0" font-weight="bold" dy="2.2" dx="1.0">&#176;</tspan></text>
<text x="235.1" y="380.2" font-size="17.0" textLength="33.4" lengthAdjust="spacingAndGlyphs">E-28</text>
<text transform="translate(235.8 485.0) rotate(48.5)" x="0" y="5.4" text-anchor="middle" font-size="15">C</text>
<text x="429.7" y="462.7" font-size="17.0" textLength="32.1" lengthAdjust="spacingAndGlyphs">HGR</text>
<text x="427.9" y="479.0" font-size="17.0" textLength="36.4" lengthAdjust="spacingAndGlyphs">2945</text>
<text transform="translate(350.5 592.1) rotate(-41.5)" x="0" y="5.4" text-anchor="middle" font-size="15">G</text>
<text transform="translate(390.5 574.0) rotate(48.5)" x="0" y="0" font-size="17.0" textLength="100.5" lengthAdjust="spacingAndGlyphs">11,799 x 200</text>
<text x="485.7" y="598.9" font-size="17.0" textLength="32.7" lengthAdjust="spacingAndGlyphs">E-28</text>
<text x="561.4" y="395.3" font-size="17.0" textLength="31.4" lengthAdjust="spacingAndGlyphs">HGR</text>
<text x="559.6" y="412.1" font-size="17.0" textLength="36.2" lengthAdjust="spacingAndGlyphs">2816</text>
<text transform="translate(694.0 412.5) rotate(-144.5)" x="0" y="5.9" text-anchor="middle" font-size="16.5" textLength="18.5" lengthAdjust="spacingAndGlyphs">32</text>
<text x="737.2" y="415.4" font-size="17.0" textLength="33.9" lengthAdjust="spacingAndGlyphs">ELEV</text>
<text x="747.3" y="430.9" font-size="17.0" textLength="16.3" lengthAdjust="spacingAndGlyphs">16</text>
<text x="548.8" y="494.5" font-size="17.0" textLength="39.0" lengthAdjust="spacingAndGlyphs">MK-7</text>
<text x="554.6" y="510.8" font-size="17.0" textLength="28.9" lengthAdjust="spacingAndGlyphs">SITE</text>
<text x="659.4" y="548.0" font-size="17.0" textLength="33.4" lengthAdjust="spacingAndGlyphs">TC-7</text>
<text x="661.9" y="563.6" font-size="17.0" textLength="28.9" lengthAdjust="spacingAndGlyphs">SITE</text>
<text transform="translate(621.0 569.1) rotate(-54.5)" x="0" y="0" font-size="17.0" textLength="54.5" lengthAdjust="spacingAndGlyphs">317.0&#160;<tspan font-size="21.0" font-weight="bold" dy="2.2" dx="1.0">&#176;</tspan></text>
<text transform="translate(721.5 526.0) rotate(86.0)" x="0" y="0" font-size="17.0" textLength="54.0" lengthAdjust="spacingAndGlyphs">A EAST</text>
<text x="742.3" y="504.5" font-size="17.0" textLength="32.6" lengthAdjust="spacingAndGlyphs">FUEL</text>
<text x="744.8" y="520.4" font-size="17.0" textLength="28.4" lengthAdjust="spacingAndGlyphs">PITS</text>
<text x="811.4" y="428.2" font-size="17.0" textLength="61.1" lengthAdjust="spacingAndGlyphs">VEHICLE</text>
<text x="800.6" y="444.1" font-size="17.0" textLength="81.7" lengthAdjust="spacingAndGlyphs">CROSSING</text>
<text x="896.9" y="410.1" font-size="17.0" textLength="33.9" lengthAdjust="spacingAndGlyphs">ELEV</text>
<text x="905.6" y="426.5" font-size="17.0" textLength="17.6" lengthAdjust="spacingAndGlyphs">15</text>
<text transform="translate(801.4 479.2) rotate(17.0)" x="0" y="5.4" text-anchor="middle" font-size="15" font-style="italic">D</text>
<text x="871.7" y="575.9" font-size="17.0" textLength="31.9" lengthAdjust="spacingAndGlyphs">HGR</text>
<text x="875.5" y="592.3" font-size="17.0" textLength="26.4" lengthAdjust="spacingAndGlyphs">115</text>
<text x="905.6" y="611.1" font-size="17.0" textLength="53.3" lengthAdjust="spacingAndGlyphs">WATER</text>
<text x="905.6" y="627.4" font-size="17.0" textLength="54.0" lengthAdjust="spacingAndGlyphs">TOWER</text>
<text x="919.5" y="643.2" font-size="17.0" textLength="26.3" lengthAdjust="spacingAndGlyphs">150</text>
<text x="971.0" y="566.4" font-size="17.0" textLength="32.6" lengthAdjust="spacingAndGlyphs">HGR</text>
<text x="976.0" y="583.0" font-size="17.0" textLength="24.6" lengthAdjust="spacingAndGlyphs">201</text>
<text x="813.2" y="610.6" font-size="17.0" textLength="31.7" lengthAdjust="spacingAndGlyphs">HGR</text>
<text x="810.7" y="626.2" font-size="17.0" textLength="37.2" lengthAdjust="spacingAndGlyphs">2133</text>
<text x="277.2" y="686.8" font-size="17.0" textLength="58.3" lengthAdjust="spacingAndGlyphs">ELEV 58</text>
<text x="293.3" y="743.2" font-size="17.0" textLength="32.1" lengthAdjust="spacingAndGlyphs">HGR</text>
<text x="291.5" y="759.5" font-size="17.0" textLength="36.9" lengthAdjust="spacingAndGlyphs">2805</text>
<text transform="translate(399.5 804.0) rotate(-54.5)" x="0" y="0" font-size="17.0" textLength="88.0" lengthAdjust="spacingAndGlyphs">9732 x 200</text>
<text transform="translate(341.0 880.0) rotate(-54.5)" x="0" y="0" font-size="17.0" textLength="55.5" lengthAdjust="spacingAndGlyphs">137.0<tspan font-size="21.0" font-weight="bold" dy="2.2" dx="1.0">&#176;</tspan></text>
<text transform="translate(473.6 841.1) rotate(38.0)" x="0" y="5.4" text-anchor="middle" font-size="15">C</text>
<text transform="translate(618.9 666.8) rotate(-34.0)" x="0" y="5.4" text-anchor="middle" font-size="15">E</text>
<text transform="translate(425.0 868.0) rotate(-54.5)" x="0" y="5.4" text-anchor="middle" font-size="15">E</text>
<text x="635.2" y="691.4" font-size="17.0" textLength="67.1" lengthAdjust="spacingAndGlyphs">COMBAT</text>
<text x="632.0" y="707.4" font-size="17.0" textLength="72.8" lengthAdjust="spacingAndGlyphs">AIRCRAFT</text>
<text x="630.0" y="723.3" font-size="17.0" textLength="72.3" lengthAdjust="spacingAndGlyphs">LOADING</text>
<text x="647.8" y="739.1" font-size="17.0" textLength="40.7" lengthAdjust="spacingAndGlyphs">AREA</text>
<text x="583.0" y="771.0" font-size="17.0" textLength="97.9" lengthAdjust="spacingAndGlyphs">CENTERFIELD</text>
<text x="574.9" y="787.3" font-size="17.0" textLength="114.1" lengthAdjust="spacingAndGlyphs">THRUST STAND</text>
<text transform="translate(733.0 744.6) rotate(88.0)" x="0" y="0" font-size="17.0" textLength="53.4" lengthAdjust="spacingAndGlyphs">A EAST</text>
<text x="878.9" y="687.7" font-size="17.0" textLength="33.9" lengthAdjust="spacingAndGlyphs">ELEV</text>
<text x="888.2" y="704.1" font-size="17.0" textLength="17.1" lengthAdjust="spacingAndGlyphs">15</text>
<text x="756.0" y="699.0" font-size="16.5" textLength="8.2" lengthAdjust="spacingAndGlyphs">P</text>
<text x="854.3" y="738.0" font-size="17.0" textLength="31.9" lengthAdjust="spacingAndGlyphs">HGR</text>
<text x="857.6" y="754.3" font-size="17.0" textLength="26.8" lengthAdjust="spacingAndGlyphs">144</text>
<text x="878.2" y="838.4" font-size="17.0" textLength="37.6" lengthAdjust="spacingAndGlyphs">FIELD</text>
<text x="879.4" y="856.0" font-size="17.0" textLength="34.4" lengthAdjust="spacingAndGlyphs">ELEV</text>
<text x="888.2" y="873.6" font-size="17.0" textLength="17.6" lengthAdjust="spacingAndGlyphs">39</text>
<text x="812.1" y="857.3" font-size="17.0" textLength="31.6" lengthAdjust="spacingAndGlyphs">HGR</text>
<text x="809.8" y="873.6" font-size="17.0" textLength="37.5" lengthAdjust="spacingAndGlyphs">2905</text>
<text x="654.5" y="853.9" font-size="17.0" textLength="32.7" lengthAdjust="spacingAndGlyphs">E-28</text>
<text transform="translate(679.5 910.0) rotate(46.5)" x="0" y="0" font-size="17.0" textLength="52.0" lengthAdjust="spacingAndGlyphs">060.1<tspan font-size="21.0" font-weight="bold" dy="2.2" dx="1.0">&#176;</tspan></text>
<text x="597.9" y="937.4" font-size="17.0" textLength="59.3" lengthAdjust="spacingAndGlyphs">EAF and</text>
<text x="597.9" y="956.2" font-size="17.0" textLength="67.5" lengthAdjust="spacingAndGlyphs">SKI JUMP</text>
<text x="775.8" y="955.0" font-size="17.0" textLength="33.9" lengthAdjust="spacingAndGlyphs">ELEV</text>
<text x="784.1" y="970.5" font-size="17.0" textLength="17.6" lengthAdjust="spacingAndGlyphs">37</text>
<text x="813.0" y="1022.8" font-size="17.0" textLength="34.4" lengthAdjust="spacingAndGlyphs">ELEV</text>
<text x="821.0" y="1038.3" font-size="17.0" textLength="17.6" lengthAdjust="spacingAndGlyphs">39</text>
<text transform="translate(761.3 988.4) rotate(-83.0)" x="0" y="5.9" text-anchor="middle" font-size="16.5">2</text>
<text transform="translate(749.4 1008.5) rotate(-41.5)" x="0" y="5.9" text-anchor="middle" font-size="16.5">6</text>
<text transform="translate(647.0 988.5) rotate(7.5)" x="0" y="0" font-size="16.5" textLength="52.5" lengthAdjust="spacingAndGlyphs" font-style="italic">019.1<tspan font-size="20.4" font-weight="bold" dy="2.1" dx="1.0">&#176;</tspan></text>
<text transform="translate(625.1 1040.9) rotate(7.0)" x="0" y="5.4" text-anchor="middle" font-size="15" font-style="italic">B</text>
<text transform="translate(351.3 934.1) rotate(97.5)" x="0" y="5.9" text-anchor="middle" font-size="16.5" textLength="17.5" lengthAdjust="spacingAndGlyphs">20</text>
<text transform="translate(375.2 930.5) rotate(7.5)" x="0" y="0" font-size="16.5" textLength="49.5" lengthAdjust="spacingAndGlyphs" font-style="italic">199.1<tspan font-size="20.4" font-weight="bold" dy="2.1" dx="1.0">&#176;</tspan></text>
<text transform="translate(455.5 942.4) rotate(7.5)" x="0" y="0" font-size="16.5" textLength="77.5" lengthAdjust="spacingAndGlyphs" font-style="italic">5021 x 75</text>
<text transform="translate(446.8 963.5) rotate(7.5)" x="0" y="0" font-size="16.5" textLength="59.5" lengthAdjust="spacingAndGlyphs" font-style="italic">UP 0.3%</text>
<text transform="translate(431.4 953.6) rotate(35.0)" x="0" y="5.4" text-anchor="middle" font-size="15">x</text>
<text transform="translate(399.8 997.6) rotate(35.0)" x="0" y="5.4" text-anchor="middle" font-size="15">x</text>
<text x="352.6" y="978.6" font-size="17.0" textLength="33.9" lengthAdjust="spacingAndGlyphs">ELEV</text>
<text x="361.4" y="994.4" font-size="17.0" textLength="17.5" lengthAdjust="spacingAndGlyphs">25</text>
<text transform="translate(481.8 986.0) rotate(-86.0)" x="0" y="5.4" text-anchor="middle" font-size="15">C</text>
<text x="521.4" y="995.6" font-size="17.0" textLength="38.4" lengthAdjust="spacingAndGlyphs">HELO</text>
<text x="494.5" y="1012.7" font-size="17.0" textLength="96.7" lengthAdjust="spacingAndGlyphs">GRASS AREA</text>
<text x="490.0" y="1045.4" font-size="17.0" textLength="34.1" lengthAdjust="spacingAndGlyphs">ELEV</text>
<text x="498.3" y="1061.7" font-size="17.0" textLength="17.5" lengthAdjust="spacingAndGlyphs">40</text>
<text x="308.3" y="1066.2" font-size="17.0" textLength="73.6" lengthAdjust="spacingAndGlyphs">BASE OPS</text>
<text x="401.5" y="1074.3" font-size="17.0" textLength="28.9" lengthAdjust="spacingAndGlyphs">FIRE</text>
<text x="383.2" y="1090.6" font-size="17.0" textLength="66.1" lengthAdjust="spacingAndGlyphs">STATION</text>
<text x="461.8" y="1088.6" font-size="17.0" textLength="31.9" lengthAdjust="spacingAndGlyphs">HGR</text>
<text x="466.9" y="1104.4" font-size="17.0" textLength="23.8" lengthAdjust="spacingAndGlyphs">101</text>
<text x="417.4" y="1124.5" font-size="17.0" textLength="74.6" lengthAdjust="spacingAndGlyphs">CONTROL</text>
<text x="431.0" y="1140.5" font-size="17.0" textLength="54.0" lengthAdjust="spacingAndGlyphs">TOWER</text>
<text x="445.0" y="1156.5" font-size="17.0" textLength="26.5" lengthAdjust="spacingAndGlyphs">242</text>
<text x="587.7" y="1106.6" font-size="17.0" textLength="32.2" lengthAdjust="spacingAndGlyphs">HGR</text>
<text x="591.5" y="1122.4" font-size="17.0" textLength="25.9" lengthAdjust="spacingAndGlyphs">109</text>
<text transform="translate(243.2 912.2) rotate(7.5)" x="0" y="0" font-size="16.5" textLength="75.0" lengthAdjust="spacingAndGlyphs" font-style="italic">1014 x 75</text>
<text x="228.9" y="951.6" font-size="17.0" textLength="32.7" lengthAdjust="spacingAndGlyphs">E-28</text>
<text x="112.6" y="1032.0" font-size="17.0" textLength="33.9" lengthAdjust="spacingAndGlyphs">ELEV</text>
<text x="120.6" y="1047.8" font-size="17.0" textLength="17.1" lengthAdjust="spacingAndGlyphs">27</text>
<text transform="translate(298.0 995.0) rotate(0.0)" x="0" y="5.4" text-anchor="middle" font-size="15">B</text>
<text transform="translate(309.8 1035.7) rotate(-54.5)" x="0" y="5.4" text-anchor="middle" font-size="15">E</text>
<text transform="translate(208.0 1093.5) rotate(35.5)" x="0" y="5.9" text-anchor="middle" font-size="16.5" textLength="17.5" lengthAdjust="spacingAndGlyphs">14</text>
<text transform="translate(214.0 1134.5) rotate(-54.5)" x="0" y="0" font-size="17.0" textLength="76.0" lengthAdjust="spacingAndGlyphs">671 x 200</text>
<text transform="translate(292.3 1097.3) rotate(56.0)" x="0" y="5.4" text-anchor="middle" font-size="15">F</text>
<text x="207.1" y="1162.5" font-size="17.0" textLength="62.1" lengthAdjust="spacingAndGlyphs">VEHICLE</text>
<text x="197.6" y="1178.1" font-size="17.0" textLength="81.1" lengthAdjust="spacingAndGlyphs">CROSSING</text>
<text x="300.1" y="1191.9" font-size="17.0" textLength="58.8" lengthAdjust="spacingAndGlyphs">ELEV 20</text>
<text x="379.7" y="1149.2" font-size="17.0" textLength="31.9" lengthAdjust="spacingAndGlyphs">HGR</text>
<text x="383.0" y="1165.0" font-size="17.0" textLength="26.8" lengthAdjust="spacingAndGlyphs">110</text>
<text x="396.0" y="1196.9" font-size="17.0" textLength="31.4" lengthAdjust="spacingAndGlyphs">HGR</text>
<text x="400.5" y="1213.2" font-size="17.0" textLength="24.4" lengthAdjust="spacingAndGlyphs">111</text>
<text x="251.1" y="1234.6" font-size="17.0" textLength="51.2" lengthAdjust="spacingAndGlyphs">NAWC</text>
<text x="238.3" y="1252.2" font-size="17.0" textLength="76.1" lengthAdjust="spacingAndGlyphs">HELO PAD</text>
<text transform="translate(666.0 1211.0) rotate(-79.0)" x="0" y="0" font-size="17.0" textLength="59.5" lengthAdjust="spacingAndGlyphs">A WEST</text>
<text x="577.2" y="1228.9" font-size="17.0" textLength="60.8" lengthAdjust="spacingAndGlyphs">VEHICLE</text>
<text x="566.4" y="1244.7" font-size="17.0" textLength="81.6" lengthAdjust="spacingAndGlyphs">CROSSING</text>
<text x="791.9" y="1171.3" font-size="17.0" textLength="83.6" lengthAdjust="spacingAndGlyphs">RSTD AREA</text>
<line x1="791.9" y1="1173.6" x2="875.5" y2="1173.6" stroke="#000" stroke-width="1.2" stroke-linecap="butt"/>
<text x="791.9" y="1187.4" font-size="17.0" textLength="192.9" lengthAdjust="spacingAndGlyphs">STOPPING IN RESTRICTED</text>
<text x="791.9" y="1203.2" font-size="17.0" textLength="153.2" lengthAdjust="spacingAndGlyphs">AREA IS PROHIBITED</text>
<text x="620.4" y="1390.1" font-size="17.0" textLength="33.9" lengthAdjust="spacingAndGlyphs">ELEV</text>
<text x="629.2" y="1406.2" font-size="17.0" textLength="17.6" lengthAdjust="spacingAndGlyphs">25</text>
<text x="681.5" y="1383.1" font-size="17.0" textLength="32.4" lengthAdjust="spacingAndGlyphs">HGR</text>
<text x="684.5" y="1398.9" font-size="17.0" textLength="26.9" lengthAdjust="spacingAndGlyphs">306</text>
<text x="650.6" y="1446.4" font-size="17.0" textLength="31.9" lengthAdjust="spacingAndGlyphs">HGR</text>
<text x="653.1" y="1462.2" font-size="17.0" textLength="27.6" lengthAdjust="spacingAndGlyphs">305</text>
<text x="237.2" y="1391.0" font-size="17.0" textLength="76.3" lengthAdjust="spacingAndGlyphs">RWY 6-24</text>
<text x="268.1" y="1407.0" font-size="17.0" textLength="133.6" lengthAdjust="spacingAndGlyphs">PCN 70 R/B/W/T</text>
<text x="237.2" y="1423.0" font-size="17.0" textLength="85.6" lengthAdjust="spacingAndGlyphs">RWY 14-32</text>
<text x="268.1" y="1439.3" font-size="17.0" textLength="133.6" lengthAdjust="spacingAndGlyphs">PCN 67 R/B/W/T</text>
<text x="237.2" y="1455.3" font-size="17.0" textLength="76.3" lengthAdjust="spacingAndGlyphs">RWY 2-20</text>
<text x="268.1" y="1471.3" font-size="17.0" textLength="133.6" lengthAdjust="spacingAndGlyphs">PCN 79 R/B/W/T</text>
</svg>
</body></html>
